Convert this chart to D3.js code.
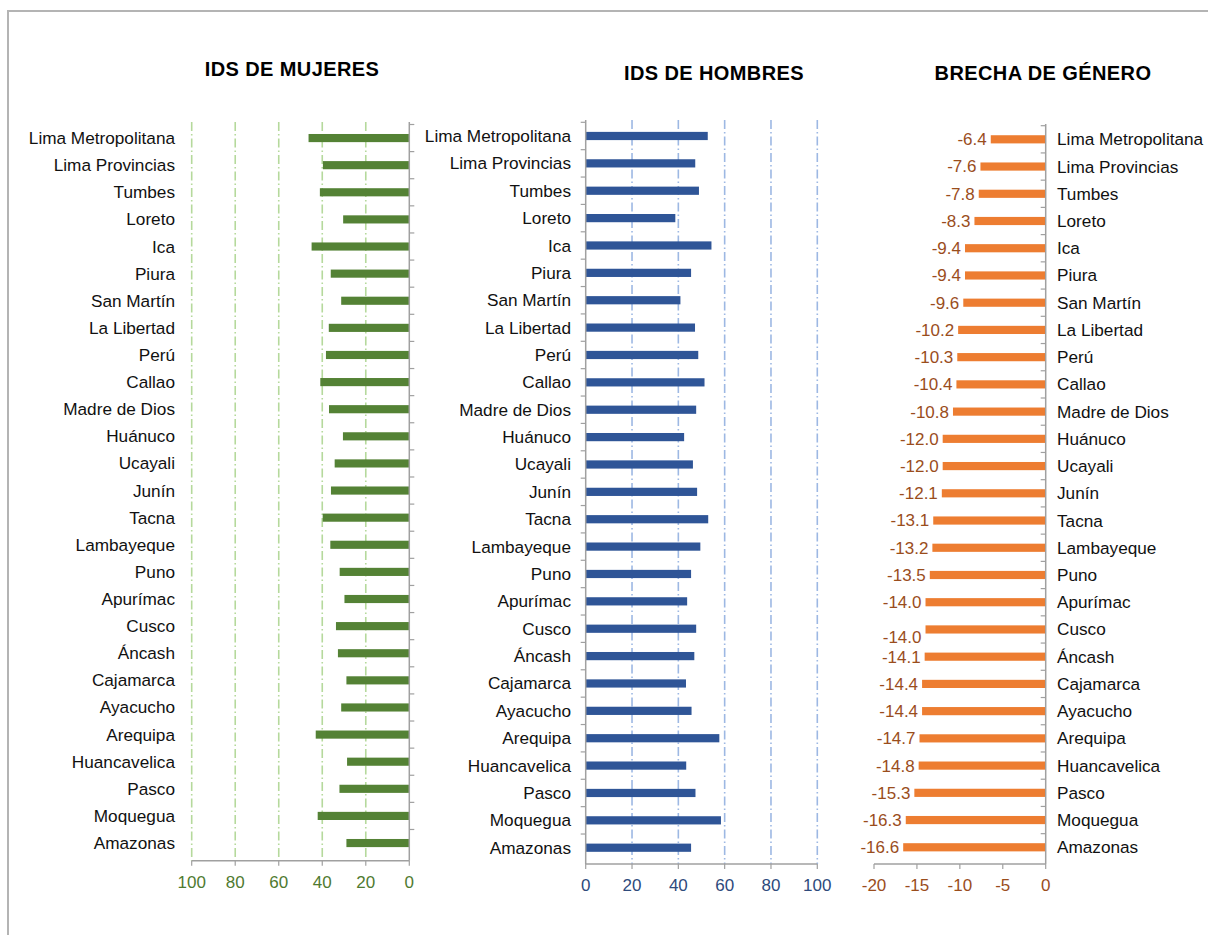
<!DOCTYPE html>
<meta charset="utf-8">
<style>
body {
  margin: 0;
  background: #fff;
  font-family: "Liberation Sans", Arial, Helvetica, sans-serif;
}
svg {
  display: block;
}
.cat {
  font-size: 17.2px;
  fill: #111;
}
.tick-lbl {
  font-size: 17px;
}
.title {
  font-size: 20px;
  font-weight: bold;
  letter-spacing: 0.4px;
  fill: #000;
}
</style>
<body>
<script src="https://cdn.jsdelivr.net/npm/d3@7"></script>
<script>

var categorias = ["Lima Metropolitana", "Lima Provincias", "Tumbes", "Loreto", "Ica", "Piura",
  "San Martín", "La Libertad", "Perú", "Callao", "Madre de Dios", "Huánuco", "Ucayali",
  "Junín", "Tacna", "Lambayeque", "Puno", "Apurímac", "Cusco", "Áncash", "Cajamarca",
  "Ayacucho", "Arequipa", "Huancavelica", "Pasco", "Moquegua", "Amazonas"];

var idsMujeres = [46.3, 39.7, 41.1, 30.4, 44.9, 36.1, 31.3, 37.0, 38.3, 40.9, 36.9, 30.5, 34.3,
  36.0, 39.8, 36.3, 32.0, 29.8, 33.7, 32.8, 28.9, 31.3, 43.0, 28.6, 32.1, 42.1, 28.9];

var idsHombres = [52.7, 47.3, 48.9, 38.7, 54.3, 45.5, 40.9, 47.2, 48.6, 51.3, 47.7, 42.5, 46.3,
  48.1, 52.9, 49.5, 45.5, 43.8, 47.7, 46.9, 43.3, 45.7, 57.7, 43.4, 47.4, 58.4, 45.5];

var brecha = [-6.4, -7.6, -7.8, -8.3, -9.4, -9.4, -9.6, -10.2, -10.3, -10.4, -10.8, -12.0, -12.0,
  -12.1, -13.1, -13.2, -13.5, -14.0, -14.0, -14.1, -14.4, -14.4, -14.7, -14.8, -15.3, -16.3, -16.6];

var ticksIds = [0, 20, 40, 60, 80, 100];
var ticksBrecha = [-20, -15, -10, -5, 0];

var width = 1208,
    height = 935;

var svg = d3.select("body").append("svg")
  .attr("width", width)
  .attr("height", height);

// marco gris
svg.append("path")
  .attr("d", "M8," + height + "V11H" + width)
  .attr("fill", "none")
  .attr("stroke", "#b4b4b4")
  .attr("stroke-width", 2);

var axisColor = "#a0a0a0";

function bandScale(y0, y1) {
  return d3.scaleBand()
    .domain(categorias)
    .range([y0, y1])
    .paddingInner(0.7)
    .paddingOuter(0.35);
}

/* ------- eje de categorias (linea + marcas entre bandas) ------- */
function catAxis(g, y, x0, tickDir, yTop, yBottom) {
  var r = y.range();
  g.append("line")
    .attr("x1", x0).attr("x2", x0)
    .attr("y1", yTop).attr("y2", yBottom)
    .attr("stroke", axisColor)
    .attr("stroke-width", 1.5);
  g.selectAll("line.ctick")
    .data(d3.range(categorias.length))
    .enter().append("line")
    .attr("class", "ctick")
    .attr("x1", x0).attr("x2", x0 + tickDir * 5)
    .attr("y1", function(i) { return r[0] + i * y.step(); })
    .attr("y2", function(i) { return r[0] + i * y.step(); })
    .attr("stroke", axisColor)
    .attr("stroke-width", 1.2);
}

/* ------- eje x con marcas hacia abajo ------- */
function valAxis(g, x, yPos, ticks, color) {
  var r = x.range();
  g.append("line")
    .attr("x1", r[0]).attr("x2", r[1])
    .attr("y1", yPos).attr("y2", yPos)
    .attr("stroke", axisColor)
    .attr("stroke-width", 1.5);
  var t = g.selectAll("g.vt")
    .data(ticks)
    .enter().append("g")
    .attr("class", "vt")
    .attr("transform", function(d) { return "translate(" + x(d) + "," + yPos + ")"; });
  t.append("line")
    .attr("y2", 5)
    .attr("stroke", axisColor)
    .attr("stroke-width", 1.2);
  t.append("text")
    .attr("class", "tick-lbl")
    .attr("y", 27)
    .attr("text-anchor", "middle")
    .attr("fill", color)
    .text(function(d) { return d; });
}

function grid(g, x, y0, y1, ticks, color) {
  g.selectAll("line.grid")
    .data(ticks.filter(function(d) { return d !== 0; }))
    .enter().append("line")
    .attr("class", "grid")
    .attr("x1", function(d) { return x(d); })
    .attr("x2", function(d) { return x(d); })
    .attr("y1", y0).attr("y2", y1)
    .attr("stroke", color)
    .attr("stroke-width", 1.6)
    .attr("stroke-dasharray", "9,3,1.5,3");
}

/* ------- IDS DE MUJERES ------- */
var xM = d3.scaleLinear().domain([0, 100]).range([409.3, 191.7]);
var yM = bandScale(124.5, 856.6);
var gM = svg.append("g");

grid(gM, xM, 122, 860.7, ticksIds, "#b5d99c");

gM.selectAll("rect")
  .data(idsMujeres)
  .enter().append("rect")
  .attr("x", function(d) { return xM(d); })
  .attr("y", function(d, i) { return yM(categorias[i]); })
  .attr("width", function(d) { return xM(0) - xM(d); })
  .attr("height", yM.bandwidth())
  .attr("fill", "#548235");

catAxis(gM, yM, 409.3, 1, 122, 860.7);
valAxis(gM, xM, 860.7, ticksIds, "#4f7a30");

gM.selectAll("text.cat")
  .data(categorias)
  .enter().append("text")
  .attr("class", "cat")
  .attr("x", 175)
  .attr("y", function(d) { return yM(d) + yM.bandwidth() / 2; })
  .attr("dy", "0.35em")
  .attr("text-anchor", "end")
  .text(function(d) { return d; });

svg.append("text")
  .attr("class", "title")
  .attr("x", 292)
  .attr("y", 76)
  .attr("text-anchor", "middle")
  .text("IDS DE MUJERES");

/* ------- IDS DE HOMBRES ------- */
var xH = d3.scaleLinear().domain([0, 100]).range([585.7, 817.3]);
var yH = bandScale(122.3, 861.4);
var gH = svg.append("g");

grid(gH, xH, 120, 864, ticksIds, "#9db8e3");

gH.selectAll("rect")
  .data(idsHombres)
  .enter().append("rect")
  .attr("x", xH(0))
  .attr("y", function(d, i) { return yH(categorias[i]); })
  .attr("width", function(d) { return xH(d) - xH(0); })
  .attr("height", yH.bandwidth())
  .attr("fill", "#2f5597");

catAxis(gH, yH, 585.7, -1, 120, 864);
valAxis(gH, xH, 864, ticksIds, "#2e4a7c");

gH.selectAll("text.cat")
  .data(categorias)
  .enter().append("text")
  .attr("class", "cat")
  .attr("x", 571)
  .attr("y", function(d) { return yH(d) + yH.bandwidth() / 2; })
  .attr("dy", "0.35em")
  .attr("text-anchor", "end")
  .text(function(d) { return d; });

svg.append("text")
  .attr("class", "title")
  .attr("x", 714)
  .attr("y", 80)
  .attr("text-anchor", "middle")
  .text("IDS DE HOMBRES");

/* ------- BRECHA DE GENERO ------- */
var xB = d3.scaleLinear().domain([-20, 0]).range([874, 1045.7]);
var yB = bandScale(125.7, 860.9);
var gB = svg.append("g");

gB.selectAll("rect")
  .data(brecha)
  .enter().append("rect")
  .attr("x", function(d) { return xB(d); })
  .attr("y", function(d, i) { return yB(categorias[i]); })
  .attr("width", function(d) { return xB(0) - xB(d); })
  .attr("height", yB.bandwidth())
  .attr("fill", "#ed7d31");

gB.selectAll("text.val")
  .data(brecha)
  .enter().append("text")
  .attr("class", "val tick-lbl")
  .attr("x", function(d) { return xB(d) - 4; })
  .attr("y", function(d, i) {
    // la etiqueta de Cusco aparece algo desplazada en el original
    var off = categorias[i] === "Cusco" ? 8 : 0;
    return yB(categorias[i]) + yB.bandwidth() / 2 + off;
  })
  .attr("dy", "0.35em")
  .attr("text-anchor", "end")
  .attr("fill", "#9a4d1c")
  .text(function(d) { return d.toFixed(1); });

catAxis(gB, yB, 1045.7, -1, 124, 864);
valAxis(gB, xB, 864, ticksBrecha, "#9a4d1c");

gB.selectAll("text.cat")
  .data(categorias)
  .enter().append("text")
  .attr("class", "cat")
  .attr("x", 1057)
  .attr("y", function(d) { return yB(d) + yB.bandwidth() / 2; })
  .attr("dy", "0.35em")
  .attr("text-anchor", "start")
  .text(function(d) { return d; });

svg.append("text")
  .attr("class", "title")
  .attr("x", 1043)
  .attr("y", 80)
  .attr("text-anchor", "middle")
  .text("BRECHA DE GÉNERO");

</script>
</body>
